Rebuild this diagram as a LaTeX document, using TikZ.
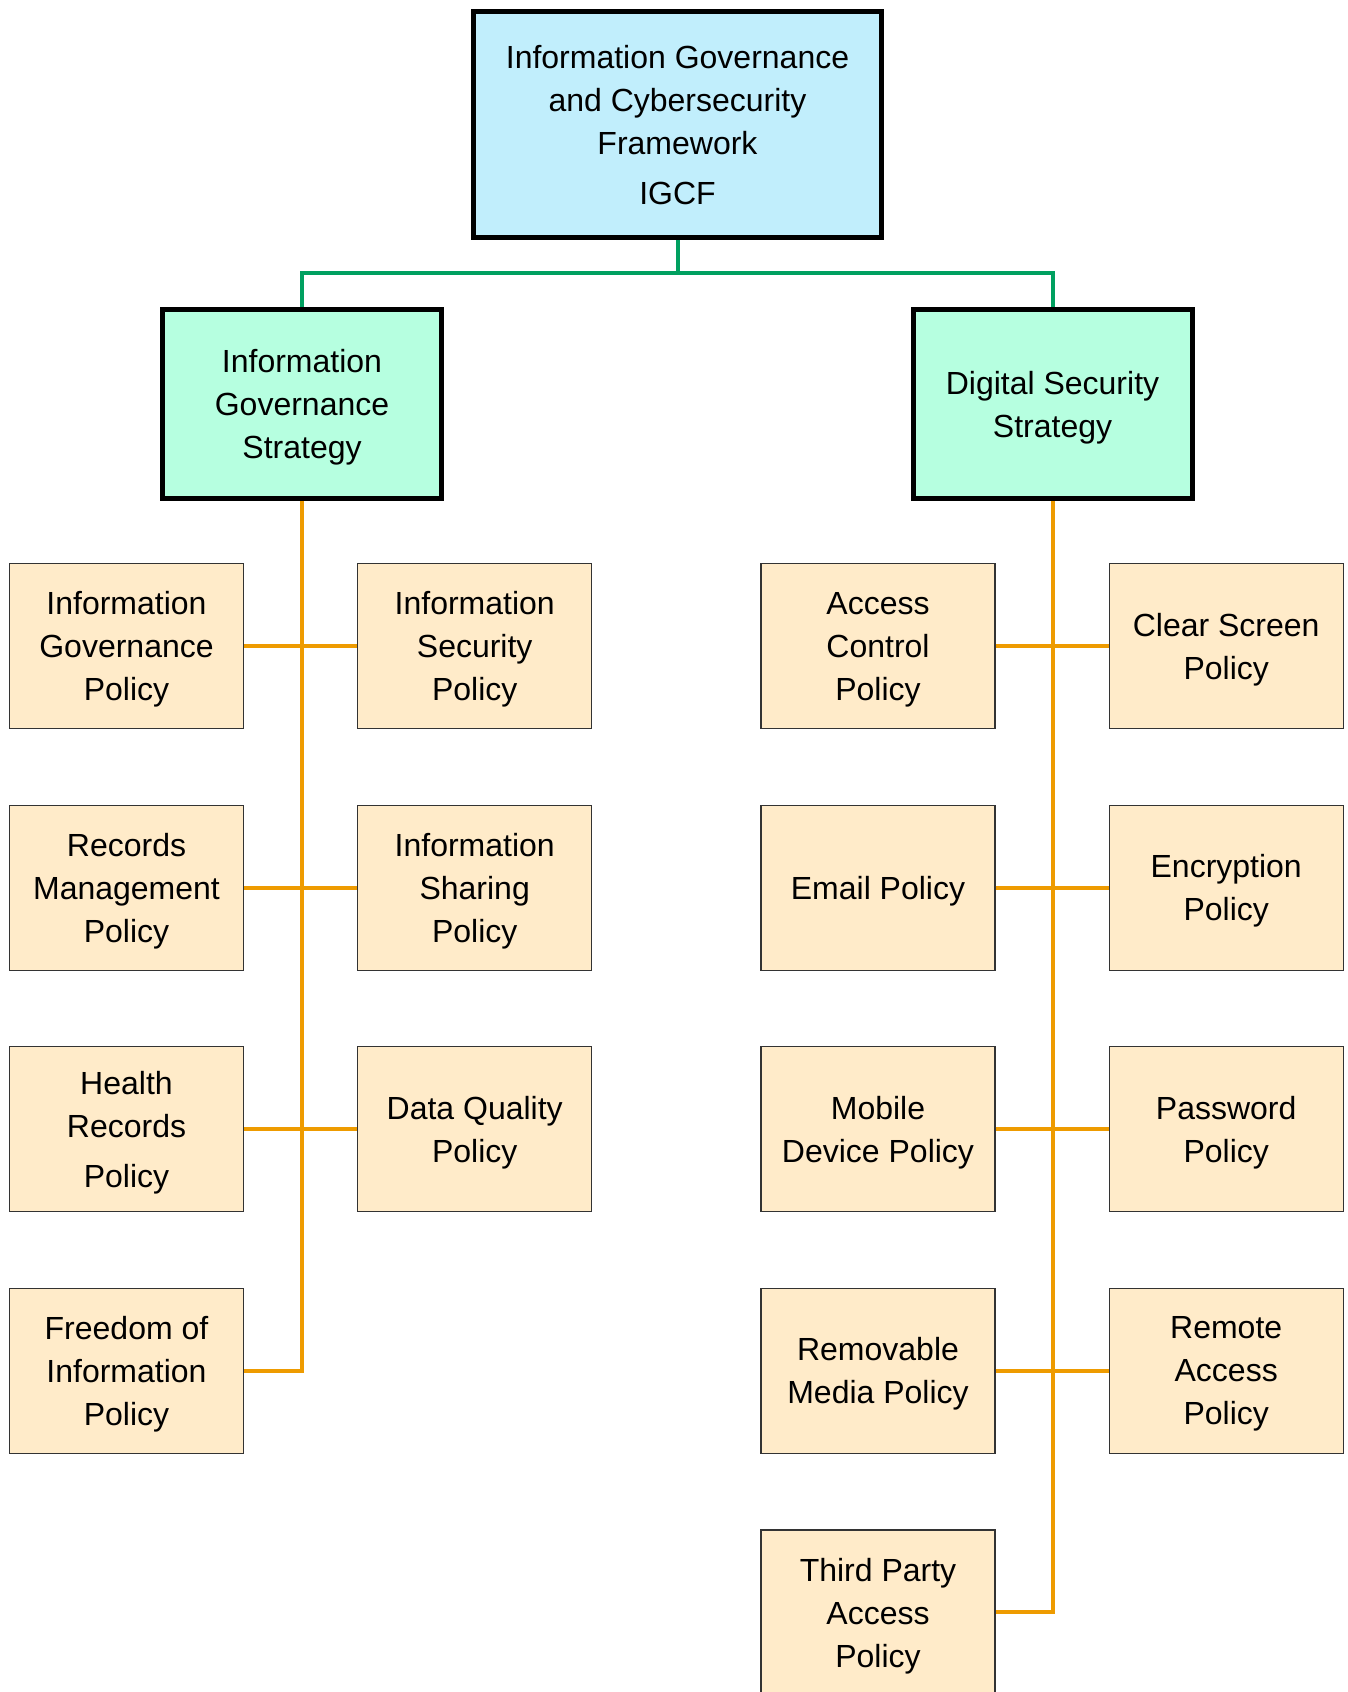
\documentclass[tikz,border=0pt]{standalone}
\usepackage{fontspec}
\setmainfont{Liberation Sans}
\usetikzlibrary{positioning}
\definecolor{framefill}{HTML}{C1EEFC}
\definecolor{strategyfill}{HTML}{B6FFE0}
\definecolor{policyfill}{HTML}{FFEBC9}
\definecolor{linkgreen}{HTML}{00A060}
\definecolor{linkorange}{HTML}{EE9B00}

\begin{document}
\begin{tikzpicture}
    [x=0.5pt, y=-0.5pt,
     every node/.style={align=center, font=\fontsize{16}{21.5}\selectfont,
                        text depth=0pt},
     node distance=37.7pt and 56.5pt,
     framebox/.style={draw, line width=2.5pt, fill=framefill,
                      minimum width=204pt, minimum height=113pt},
     strategybox/.style={draw, line width=2.5pt, fill=strategyfill,
                         minimum width=139.5pt, minimum height=94.5pt},
     policybox/.style={draw=black!80, line width=0.6pt, fill=policyfill,
                       minimum width=117pt, minimum height=82.5pt},
     greenlink/.style={linkgreen, line width=2pt},
     orangelink/.style={linkorange, line width=2pt}]
    \useasboundingbox (0,0) rectangle (1348,1692);

    % framework and strategies
    \node [framebox] (igcf) at (677.5,124.5)
      {Information Governance\\and Cybersecurity\\Framework\\[3.5pt]IGCF};
    \node [strategybox] (igs) at (302,404) {Information\\Governance\\Strategy};
    \node [strategybox] (dss) at (1052.5,404) {Digital Security\\Strategy};

    % governance policies
    \node [policybox] (igp) at (126.5,646) {Information\\Governance\\Policy};
    \node [policybox] (isp) [right = of igp] {Information\\Security\\Policy};
    \node [policybox] (rmp) [below = of igp] {Records\\Management\\Policy};
    \node [policybox] (shp) [right = of rmp] {Information\\Sharing\\Policy};
    \node [policybox] (hrp) [below = of rmp] {Health\\Records\\[3.5pt]Policy};
    \node [policybox] (dqp) [right = of hrp] {Data Quality\\Policy};
    \node [policybox] (foi) [below = of hrp] {Freedom of\\Information\\Policy};

    % security policies
    \node [policybox] (acp) at (878,646) {Access\\Control\\Policy};
    \node [policybox] (csp) [right = of acp] {Clear Screen\\Policy};
    \node [policybox] (emp) [below = of acp] {Email Policy};
    \node [policybox] (enp) [right = of emp] {Encryption\\Policy};
    \node [policybox] (mdp) [below = of emp] {Mobile\\Device Policy};
    \node [policybox] (pwp) [right = of mdp] {Password\\Policy};
    \node [policybox] (rmm) [below = of mdp] {Removable\\Media Policy};
    \node [policybox] (rap) [right = of rmm] {Remote\\Access\\Policy};
    \node [policybox] (tpa) [below = of rmm] {Third Party\\Access\\Policy};

    \coordinate (split) at (677.5,273);
    \draw [greenlink] (igcf.south) -- (split);
    \draw [greenlink] (igs.north) |- (split) -| (dss.north);

    \draw [orangelink] (igs.south) |- (foi.east);
    \draw [orangelink] (igp.east) -- (isp.west);
    \draw [orangelink] (rmp.east) -- (shp.west);
    \draw [orangelink] (hrp.east) -- (dqp.west);

    \draw [orangelink] (dss.south) |- (tpa.east);
    \draw [orangelink] (acp.east) -- (csp.west);
    \draw [orangelink] (emp.east) -- (enp.west);
    \draw [orangelink] (mdp.east) -- (pwp.west);
    \draw [orangelink] (rmm.east) -- (rap.west);
  \end{tikzpicture}
\end{document}
